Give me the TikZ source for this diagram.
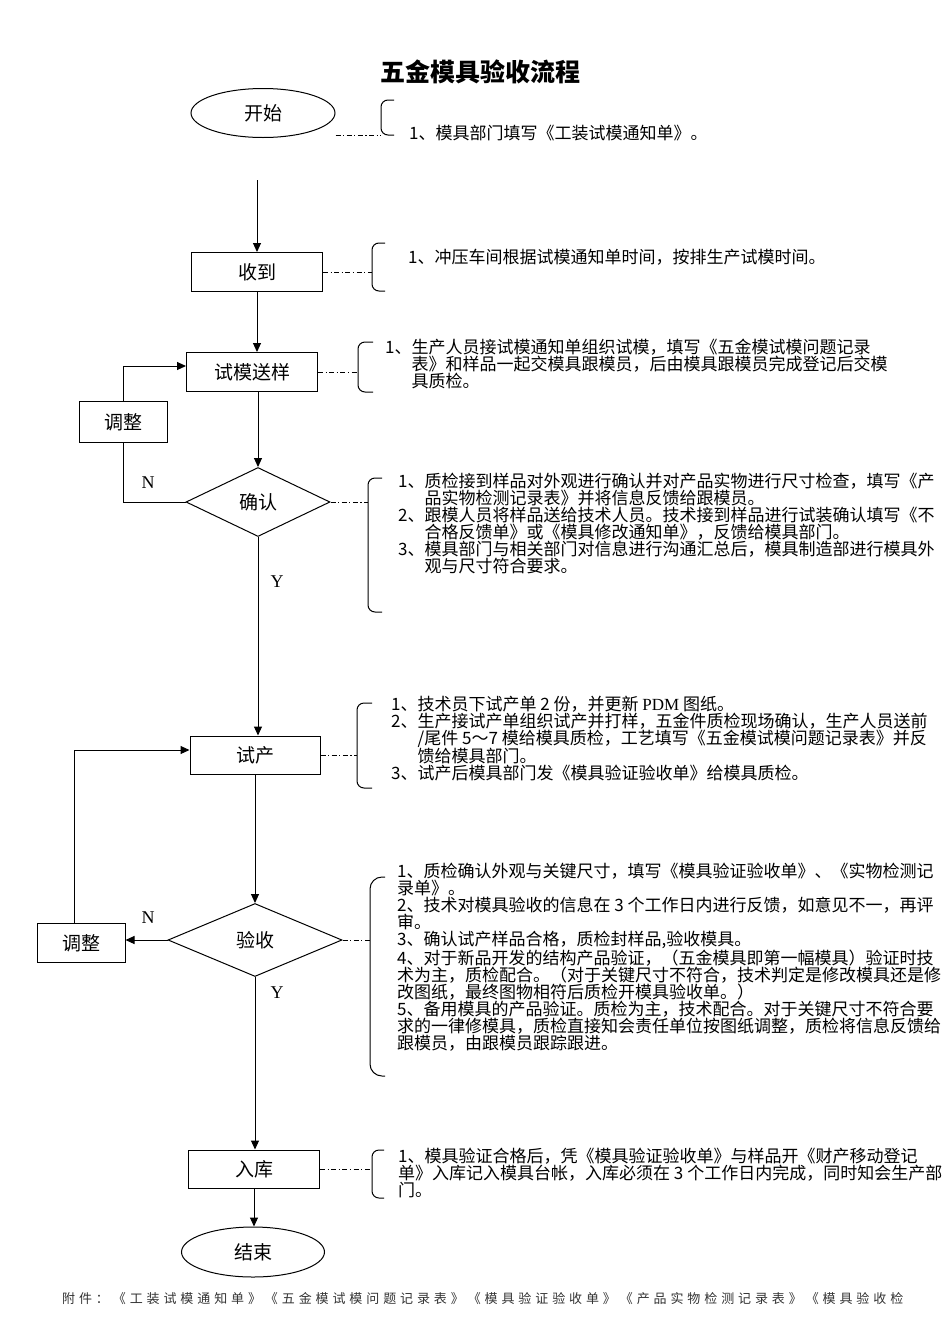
\documentclass[tikz,border=0pt]{standalone}
\usepackage{fontspec}
\setmainfont{Liberation Serif}
\newfontfamily\cjk{Noto Sans CJK SC}
\newfontfamily\cjkpie[LetterSpace=30]{Noto Sans CJK SC}
\usetikzlibrary{shapes.geometric,arrows.meta}
\newcommand{\sang}{\phantom{1、}}
\tikzset{
  >={Triangle[length=9pt,width=8pt]},
  caja/.style={draw, line width=1pt, minimum width=131pt, minimum height=39pt, inner sep=0pt, font=\cjk\fontsize{19}{19}\selectfont},
  fin/.style={draw, ellipse, line width=1pt, minimum width=144pt, minimum height=49pt, inner sep=0pt, font=\cjk\fontsize{19}{19}\selectfont},
  rombo/.style={draw, diamond, aspect=2, line width=1pt, minimum width=144pt, minimum height=69pt, inner sep=0pt, font=\cjk\fontsize{19}{19}\selectfont},
  nota/.style={anchor=north west, inner sep=0pt, align=left, font=\cjk\fontsize{17}{17}\selectfont},
  letra/.style={inner sep=0pt, font=\fontsize{18}{18}\selectfont},
  rayapunto/.style={line width=1pt, dash pattern=on 5pt off 2.5pt on 1.2pt off 2.5pt},
  llave/.style={line width=1pt, rounded corners=7pt}
}
\begin{document}
\begin{tikzpicture}[x=1pt, y=-1pt]
        \useasboundingbox (0,0) rectangle (950,1344);

        % Titulo
        \node[font=\cjk\bfseries\fontsize{25}{25}\selectfont] (titulo) at (480,72) {五金模具验收流程};

        % Pasos del flujo
        \node[fin] (inicio) at (263,113) {开始};
        \coordinate (a0) at (257,180);
        \node[caja] (recibir) at (257,272) {收到};
        \node[caja] (muestra) at (252,372) {试模送样};
        \node[caja, minimum width=88pt, minimum height=41pt] (ajuste1) at (123,422) {调整};
        \node[rombo] (confirmar) at (258,502) {确认};
        \node[caja, minimum width=130pt, minimum height=38pt] (prueba) at (255,755) {试产};
        \node[rombo, minimum width=174pt, minimum height=73pt] (aceptar) at (255,940) {验收};
        \node[caja, minimum width=88pt] (ajuste2) at (81,943) {调整};
        \node[caja, minimum height=38pt] (almacen) at (254,1169) {入库};
        \node[fin, minimum width=143pt, minimum height=50pt] (final) at (253,1252) {结束};

        % Flechas
        \draw[->, line width=1pt] (a0) -- (recibir.north);
        \draw[->, line width=1pt] (recibir.south) -- (recibir.south |- muestra.north);
        \draw[->, line width=1pt] (confirmar.north |- muestra.south) -- (confirmar.north);
        \draw[line width=1pt] (confirmar.west) -| (ajuste1.south);
        \draw[->, line width=1pt] (ajuste1.north) |- ([yshift=6pt]muestra.west);
        \draw[->, line width=1pt] (confirmar.south) -- (confirmar.south |- prueba.north);
        \draw[->, line width=1pt] (prueba.south) -- (prueba.south |- aceptar.north);
        \draw[->, line width=1pt] (aceptar.west) -- (aceptar.west -| ajuste2.east);
        \draw[->, line width=1pt] ([xshift=-7pt]ajuste2.north) |- ([yshift=5pt]prueba.west);
        \draw[->, line width=1pt] (aceptar.south) -- (aceptar.south |- almacen.north);
        \draw[->, line width=1pt] (almacen.south) -- (almacen.south |- final.north);

        % Etiquetas N / Y
        \node[letra] (n1) at (148,483) {N};
        \node[letra] (y1) at (277,582) {Y};
        \node[letra] (n2) at (148,918) {N};
        \node[letra] (y2) at (277,993) {Y};

        % Llaves
        \draw[llave] (394,100) -- (381,100) -- (381,135) -- (394,135);
        \draw[llave] (385,243) -- (372,243) -- (372,291) -- (385,291);
        \draw[llave] (373,342) -- (358,342) -- (358,392) -- (373,392);
        \draw[llave] (382,478) -- (368,478) -- (368,612) -- (382,612);
        \draw[llave] (372,703) -- (357,703) -- (357,788) -- (372,788);
        \draw[llave, rounded corners=12pt] (385,877) -- (370,877) -- (370,1076) -- (385,1076);
        \draw[llave] (384,1150) -- (372,1150) -- (372,1198) -- (384,1198);

        % Lineas punto y raya
        \coordinate (l1) at (381,135);
        \coordinate (l2) at (372,272);
        \coordinate (l3) at (358,372);
        \coordinate (l4) at (368,502);
        \coordinate (l5) at (357,755);
        \coordinate (l6) at (370,940);
        \coordinate (l7) at (372,1169);
        \draw[rayapunto] (inicio.east |- l1) -- (l1);
        \draw[rayapunto] (recibir.east) -- (l2);
        \draw[rayapunto] (muestra.east) -- (l3);
        \draw[rayapunto] (confirmar.east) -- (l4);
        \draw[rayapunto] (prueba.east) -- (l5);
        \draw[rayapunto] (aceptar.east) -- (l6);
        \draw[rayapunto] (almacen.east) -- (l7);

        % Notas
        \node[nota] (nota1) at (409,125) {1、模具部门填写《工装试模通知单》。};
        \node[nota] (nota2) at (408,249) {1、冲压车间根据试模通知单时间，按排生产试模时间。};
        \node[nota] (nota3) at (385,339) {1、生产人员接试模通知单组织试模，填写《五金模试模问题记录\\
          \sang 表》和样品一起交模具跟模员，后由模具跟模员完成登记后交模\\
          \sang 具质检。};
        \node[nota] (nota4) at (398,473) {1、质检接到样品对外观进行确认并对产品实物进行尺寸检查，填写《产\\
          \sang 品实物检测记录表》并将信息反馈给跟模员。\\
          2、跟模人员将样品送给技术人员。技术接到样品进行试装确认填写《不\\
          \sang 合格反馈单》或《模具修改通知单》，反馈给模具部门。\\
          3、模具部门与相关部门对信息进行沟通汇总后，模具制造部进行模具外\\
          \sang 观与尺寸符合要求。};
        \node[nota] (nota5) at (391,696) {1、技术员下试产单 2 份，并更新 {\rmfamily PDM} 图纸。\\
          2、生产接试产单组织试产并打样，五金件质检现场确认，生产人员送前\\
          \sang /尾件 5～7 模给模具质检，工艺填写《五金模试模问题记录表》并反\\
          \sang 馈给模具部门。\\
          3、试产后模具部门发《模具验证验收单》给模具质检。};
        \node[nota] (nota6) at (397,863) {1、质检确认外观与关键尺寸，填写《模具验证验收单》、《实物检测记\\
          录单》。\\
          2、技术对模具验收的信息在 3 个工作日内进行反馈，如意见不一，再评\\
          审。\\
          3、确认试产样品合格，质检封样品,验收模具。\\
          4、对于新品开发的结构产品验证，（五金模具即第一幅模具）验证时技\\
          术为主，质检配合。（对于关键尺寸不符合，技术判定是修改模具还是修\\
          改图纸，最终图物相符后质检开模具验收单。）\\
          5、备用模具的产品验证。质检为主，技术配合。对于关键尺寸不符合要\\
          求的一律修模具，质检直接知会责任单位按图纸调整，质检将信息反馈给\\
          跟模员，由跟模员跟踪跟进。};
        \node[nota] (nota7) at (398,1148) {1、模具验证合格后，凭《模具验证验收单》与样品开《财产移动登记\\
          单》入库记入模具台帐，入库必须在 3 个工作日内完成，同时知会生产部\\
          门。};

        % Pie
        \node[anchor=west, inner sep=0pt, text=black!80, font=\cjkpie\fontsize{13}{13}\selectfont] (anexo) at (62,1299) {附件：《工装试模通知单》《五金模试模问题记录表》《模具验证验收单》《产品实物检测记录表》《模具验收检};
    \end{tikzpicture}
\end{document}
